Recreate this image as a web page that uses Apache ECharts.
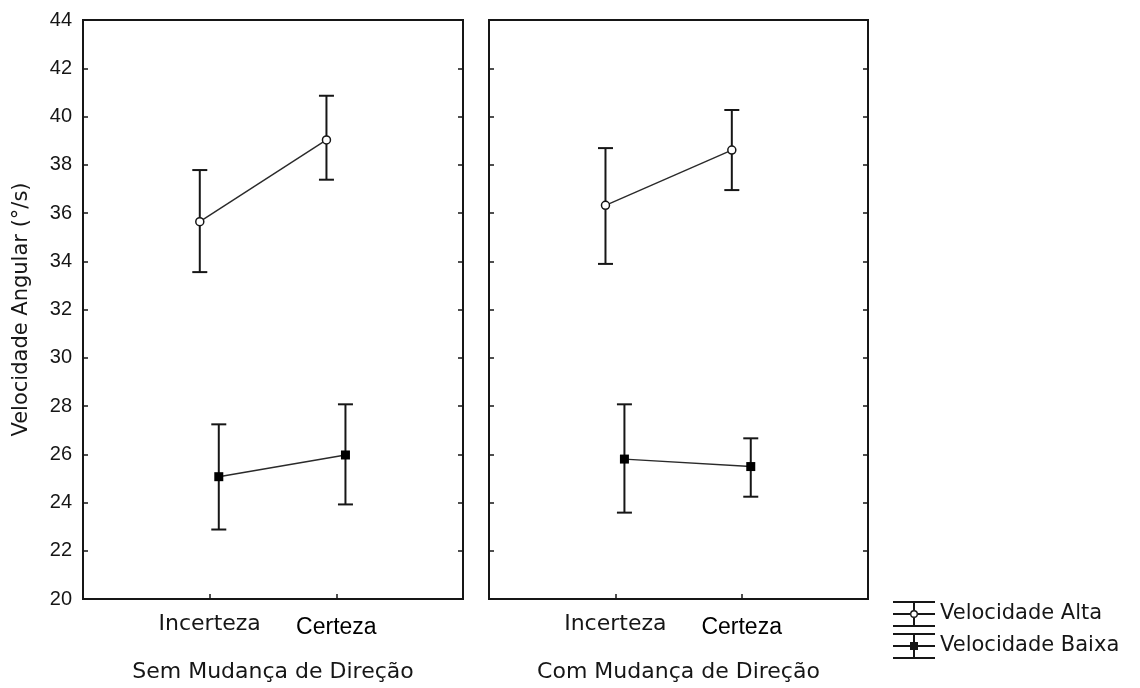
<!DOCTYPE html>
<html><head><meta charset="utf-8">
<script src="https://cdn.jsdelivr.net/npm/echarts@6/dist/echarts.min.js"></script>
<style>html,body{margin:0;padding:0;background:#fff}#c{width:1140px;height:688px}</style>
</head><body><div id="c"></div>
<script>
// ---- data ----
const categories = ['Incerteza', 'Certeza'];
const panels = ['Sem Mudança de Direção', 'Com Mudança de Direção'];
const seriesNames = ['Velocidade Alta', 'Velocidade Baixa'];
const yTickLabels = [20, 22, 24, 26, 28, 30, 32, 34, 36, 38, 40, 42, 44];
const yAxisTitle = 'Velocidade Angular (°/s)';

const semAltaMean  = [35.64, 39.03];
const semAltaLow   = [33.55, 37.38];
const semAltaHigh  = [37.78, 40.86];
const semBaixaMean = [25.07, 25.97];
const semBaixaLow  = [22.88, 23.92];
const semBaixaHigh = [27.24, 28.07];

const comAltaMean  = [36.32, 38.61];
const comAltaLow   = [33.89, 36.95];
const comAltaHigh  = [38.69, 40.27];
const comBaixaMean = [25.80, 25.49];
const comBaixaLow  = [23.58, 24.24];
const comBaixaHigh = [28.07, 26.66];

// ---- layout / style ----
const INK = '#161616';
const dodge = [-0.078, 0.072];
const grids = [
  { left: 83, top: 20, width: 380, height: 579 },
  { left: 489, top: 20, width: 379, height: 579 }
];
const panelData = [
  [[semAltaMean, semAltaLow, semAltaHigh], [semBaixaMean, semBaixaLow, semBaixaHigh]],
  [[comAltaMean, comAltaLow, comAltaHigh], [comBaixaMean, comBaixaLow, comBaixaHigh]]
];
const yMin = yTickLabels[0], yMax = yTickLabels[yTickLabels.length - 1];
const yStep = yTickLabels[1] - yTickLabels[0];
const catPos = categories.map((c, i) => i + 1);

const xAxes = [], yAxes = [], series = [];
grids.forEach((g, gi) => {
  xAxes.push({
    type: 'value', gridIndex: gi, min: 0, max: categories.length + 1, interval: 1,
    axisLine: { show: false }, splitLine: { show: false },
    axisTick: { show: true, inside: true, length: 5, customValues: catPos, lineStyle: { color: INK, width: 1.5 } },
    axisLabel: {
      customValues: catPos, margin: 12,
      formatter: v => {
        const i = Math.round(v) - 1;
        if (i < 0 || i >= categories.length || Math.abs(v - Math.round(v)) > 1e-6) return '';
        return '{' + (i === 0 ? 'a' : 'b') + '|' + categories[i] + '}';
      },
      rich: {
        a: { fontFamily: 'DejaVu Sans', fontSize: 22, color: INK, lineHeight: 26, padding: [0, 0, 0, 0] },
        b: { fontFamily: 'Liberation Sans', fontSize: 23, color: '#000', lineHeight: 26, padding: [7, 0, 0, 0] }
      }
    },
    name: panels[gi], nameLocation: 'middle', nameGap: 62,
    nameTextStyle: { fontFamily: 'DejaVu Sans', fontSize: 22, color: INK }
  });
  const yl = {
    type: 'value', gridIndex: gi, min: yMin, max: yMax, interval: yStep, position: 'left',
    axisLine: { show: false }, splitLine: { show: false },
    axisTick: { show: true, inside: true, length: 5, lineStyle: { color: INK, width: 1.5 } },
    axisLabel: { show: gi === 0, margin: 11, fontFamily: 'Liberation Sans', fontSize: 20, color: INK }
  };
  if (gi === 0) {
    yl.name = yAxisTitle; yl.nameLocation = 'middle'; yl.nameGap = 51; yl.nameRotate = 90;
    yl.nameTextStyle = { fontFamily: 'DejaVu Sans', fontSize: 21, color: INK };
  }
  yAxes.push(yl);
  yAxes.push({
    type: 'value', gridIndex: gi, min: yMin, max: yMax, interval: yStep, position: 'right',
    axisLine: { show: false }, splitLine: { show: false },
    axisTick: { show: true, inside: true, length: 5, lineStyle: { color: INK, width: 1.5 } },
    axisLabel: { show: false }
  });
});

grids.forEach((g, gi) => {
  panelData[gi].forEach((sd, si) => {
    const [mean, low, high] = sd;
    const xs = mean.map((m, i) => catPos[i] + dodge[si]);
    series.push({
      type: 'custom', xAxisIndex: gi, yAxisIndex: gi * 2, z: 2, silent: true,
      encode: { x: 0, y: [1, 2] },
      data: mean.map((m, i) => [xs[i], low[i], high[i]]),
      renderItem: (params, api) => {
        const x = api.value(0);
        const pLo = api.coord([x, api.value(1)]);
        const pHi = api.coord([x, api.value(2)]);
        const w = 7.5;
        const style = { stroke: INK, lineWidth: 2 };
        return { type: 'group', children: [
          { type: 'line', shape: { x1: pLo[0], y1: pLo[1], x2: pHi[0], y2: pHi[1] }, style },
          { type: 'line', shape: { x1: pHi[0] - w, y1: pHi[1], x2: pHi[0] + w, y2: pHi[1] }, style },
          { type: 'line', shape: { x1: pLo[0] - w, y1: pLo[1], x2: pLo[0] + w, y2: pLo[1] }, style }
        ]};
      }
    });
    series.push({
      type: 'line', name: seriesNames[si], xAxisIndex: gi, yAxisIndex: gi * 2, z: 5,
      data: mean.map((m, i) => [xs[i], m]),
      symbol: si === 0 ? 'circle' : 'rect',
      symbolSize: si === 0 ? 8 : 9,
      itemStyle: si === 0 ? { color: '#fff', borderColor: INK, borderWidth: 1.5 } : { color: '#000', borderWidth: 0 },
      lineStyle: { color: '#2a2a2a', width: 1.4 }
    });
  });
});

const altaIcon = 'path://M0 0H42V2H0Z M0 24H42V26H0Z M0 12H17V14H0Z M25 12H42V14H25Z M20 2H22V9H20Z M20 17H22V24H20Z ' +
  'M25 13A4 4 0 1 0 17 13A4 4 0 1 0 25 13Z M23.6 13A2.6 2.6 0 1 1 18.4 13A2.6 2.6 0 1 1 23.6 13Z';
const baixaIcon = 'path://M0 0H42V2H0Z M0 24H42V26H0Z M0 12H42V14H0Z M20 2H22V24H20Z M17 9H25V17H17Z';

const option = {
  animation: false,
  backgroundColor: '#fff',
  grid: grids.map(g => Object.assign({ show: true, borderColor: INK, borderWidth: 2, backgroundColor: 'transparent', containLabel: false }, g)),
  xAxis: xAxes,
  yAxis: yAxes,
  legend: {
    orient: 'vertical', left: 888, top: 596, itemWidth: 42, itemHeight: 26, itemGap: 6,
    selectedMode: false,
    data: [{ name: seriesNames[0], icon: altaIcon }, { name: seriesNames[1], icon: baixaIcon }],
    itemStyle: { color: INK, borderWidth: 0 },
    textStyle: { fontFamily: 'DejaVu Sans', fontSize: 21, color: INK, padding: [0, 0, 0, 0] }
  },
  series
};
const chart = echarts.init(document.getElementById('c'), null, { renderer: 'canvas' });
chart.setOption(option);
</script>
</body></html>
